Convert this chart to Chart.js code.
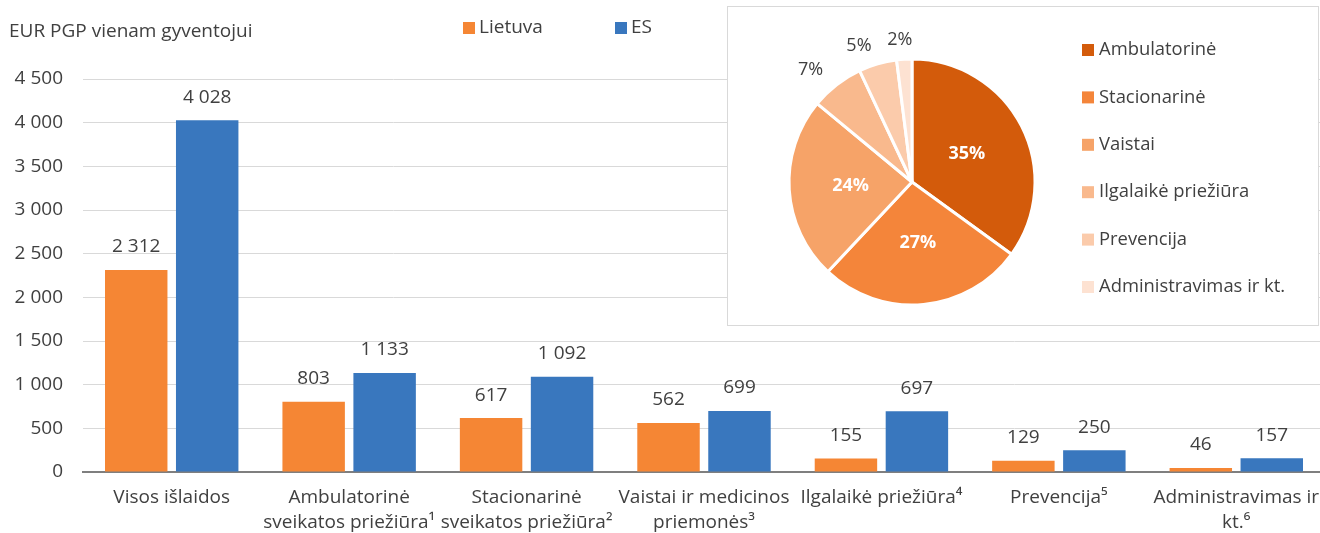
<!DOCTYPE html>
<html>
<head>
<meta charset="utf-8">
<script src="https://cdn.jsdelivr.net/npm/chart.js@4.4.1/dist/chart.umd.min.js"></script>
<style>
    body { margin: 0; background: #fff; overflow: hidden; }
    #wrap { position: relative; width: 1320px; height: 533px; overflow: hidden; }
    #barChart { position: absolute; left: 0; top: 0; }
    #pieBox {
        position: absolute; left: 727px; top: 6px; width: 592px; height: 320px;
        box-sizing: border-box; border: 1px solid #d9d9d9; background: #fff;
    }
</style>
</head>
<body>
<div id="wrap">
    <!-- plot area runs slightly past the right edge, as in the source -->
    <canvas id="barChart" width="1325" height="533"></canvas>
    <div id="pieBox"><canvas id="pieChart" width="590" height="318"></canvas></div>
</div>
<script>
// bar chart data
const categories = [
    ['Visos išlaidos'],
    ['Ambulatorinė', 'sveikatos priežiūra¹'],
    ['Stacionarinė', 'sveikatos priežiūra²'],
    ['Vaistai ir medicinos', 'priemonės³'],
    ['Ilgalaikė priežiūra⁴'],
    ['Prevencija⁵'],
    ['Administravimas ir', 'kt.⁶']
];
const lietuva = [2312, 803, 617, 562, 155, 129, 46];
const es = [4028, 1133, 1092, 699, 697, 250, 157];
const seriesNames = ['Lietuva', 'ES'];
const yTitle = 'EUR PGP vienam gyventojui';

// pie chart data (Lietuva structure, %)
const pieLabels = ['Ambulatorinė', 'Stacionarinė', 'Vaistai', 'Ilgalaikė priežiūra', 'Prevencija', 'Administravimas ir kt.'];
const pieValues = [35, 27, 24, 7, 5, 2];

const FONT = "'Open Sans', 'DejaVu Sans', sans-serif";
const TEXT = '#404040';
const ORANGE = '#f58634';
const BLUE = '#3977be';
const pieColors = ['#d35b0b', '#f4853a', '#f6a368', '#f9b98d', '#fbcbab', '#fde2d2'];

Chart.defaults.font.family = FONT;
Chart.defaults.color = TEXT;

function fmt(v) {
    return String(v).replace(/\B(?=(\d{3})+(?!\d))/g, ' ');
}

// value labels above bars, title and legend
const barExtras = {
    id: 'barExtras',
    afterDatasetsDraw(chart) {
        const ctx = chart.ctx;
        ctx.save();
        ctx.font = '19px ' + FONT;
        ctx.fillStyle = TEXT;
        ctx.textAlign = 'center';
        ctx.textBaseline = 'middle';
        chart.data.datasets.forEach((ds, i) => {
            chart.getDatasetMeta(i).data.forEach((bar, j) => {
                ctx.fillText(fmt(ds.data[j]), bar.x, bar.y - 23);
            });
        });

        // axis title
        ctx.textAlign = 'left';
        ctx.fillText(yTitle, 9, 32);

        // legend
        const legendX = [463, 615];
        chart.data.datasets.forEach((ds, i) => {
            ctx.fillStyle = ds.backgroundColor;
            ctx.fillRect(legendX[i], 22, 12, 12);
            ctx.fillStyle = TEXT;
            ctx.fillText(ds.label, legendX[i] + 16, 28);
        });
        ctx.restore();
    }
};

new Chart(document.getElementById('barChart'), {
    type: 'bar',
    data: {
        labels: categories,
        datasets: [
            { label: seriesNames[0], data: lietuva, backgroundColor: ORANGE },
            { label: seriesNames[1], data: es, backgroundColor: BLUE }
        ]
    },
    options: {
        responsive: false,
        animation: false,
        events: [],
        categoryPercentage: 0.8,
        barPercentage: 0.88,
        layout: { padding: { top: 79, right: 0, left: 0, bottom: 0 } },
        plugins: { legend: { display: false }, tooltip: { enabled: false } },
        scales: {
            x: {
                grid: { display: false, drawTicks: false },
                border: { color: '#7f7f7f', width: 2 },
                ticks: { font: { size: 19, lineHeight: 1.32 }, maxRotation: 0, autoSkip: false, padding: 13, color: TEXT },
                afterFit(scale) {
                    scale.height = 61;
                    // labels fit inside their categories, no side padding needed
                    scale.paddingLeft = 0;
                    scale.paddingRight = 0;
                }
            },
            y: {
                min: 0,
                max: 4500,
                ticks: { stepSize: 500, font: { size: 19 }, padding: 20, color: TEXT, callback: v => fmt(v) },
                grid: { color: '#d9d9d9', drawTicks: false },
                border: { display: false },
                afterFit(scale) { scale.width = 83; }
            }
        }
    },
    plugins: [barExtras]
});

// pie labels and legend
const pieExtras = {
    id: 'pieExtras',
    afterDatasetsDraw(chart) {
        const ctx = chart.ctx;
        const ds = chart.data.datasets[0];
        ctx.save();
        ctx.textAlign = 'center';
        ctx.textBaseline = 'middle';
        chart.getDatasetMeta(0).data.forEach((arc, i) => {
            const mid = (arc.startAngle + arc.endAngle) / 2;
            const v = ds.data[i];
            const txt = v + '%';
            if (v >= 10) {
                const r = arc.outerRadius * 0.5;
                ctx.font = 'bold 18px ' + FONT;
                ctx.fillStyle = '#fff';
                ctx.fillText(txt, arc.x + Math.cos(mid) * r, arc.y + Math.sin(mid) * r);
            } else {
                // outside label, pushed sideways by up to half its width
                ctx.font = '18px ' + FONT;
                ctx.fillStyle = TEXT;
                const w = ctx.measureText(txt).width;
                const c = Math.cos(mid);
                const push = Math.sign(c) * w / 2 * Math.min(1, Math.abs(c) * 4);
                const x = arc.x + c * (arc.outerRadius + 22) + push;
                const y = arc.y + Math.sin(mid) * (arc.outerRadius + 19);
                ctx.fillText(txt, x, y);
            }
        });

        // legend
        ctx.textAlign = 'left';
        ctx.font = '18.4px ' + FONT;
        chart.data.labels.forEach((lab, i) => {
            const y = 43 + i * 47.4;
            ctx.fillStyle = ds.backgroundColor[i];
            ctx.fillRect(354, y - 6, 12, 12);
            ctx.fillStyle = TEXT;
            ctx.fillText(lab, 371, y);
        });
        ctx.restore();
    }
};

new Chart(document.getElementById('pieChart'), {
    type: 'pie',
    data: {
        labels: pieLabels,
        datasets: [{
            data: pieValues,
            backgroundColor: pieColors,
            borderColor: '#fff',
            borderWidth: 3,
            hoverOffset: 0
        }]
    },
    options: {
        responsive: false,
        animation: false,
        events: [],
        layout: { padding: { left: 59.5, top: 50.5, right: 281.5, bottom: 18.5 } },
        plugins: { legend: { display: false }, tooltip: { enabled: false } }
    },
    plugins: [pieExtras]
});
</script>
</body>
</html>
